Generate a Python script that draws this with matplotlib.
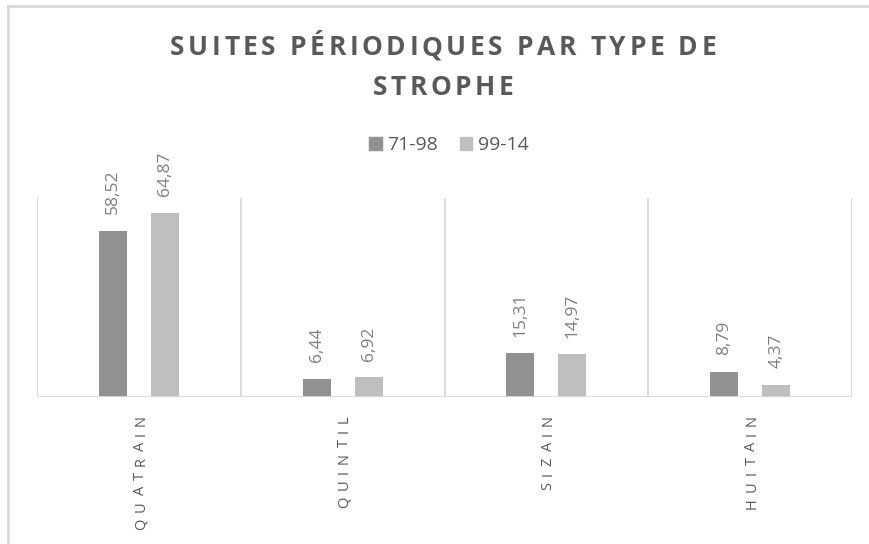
import matplotlib
matplotlib.use("Agg")
import matplotlib.pyplot as plt
from matplotlib.patches import Patch
from matplotlib.lines import Line2D

plt.rcParams['font.family'] = ['Open Sans', 'DejaVu Sans']

# data
categories = ["QUATRAIN", "QUINTIL", "SIZAIN", "HUITAIN"]
series_names = ["71-98", "99-14"]
vals_7198 = [58.52, 6.44, 15.31, 8.79]
vals_9914 = [64.87, 6.92, 14.97, 4.37]
title_lines = ["SUITES PÉRIODIQUES PAR TYPE DE", "STROPHE"]

W, H = 869, 544
dark = "#919191"
light = "#bfbfbf"
grid = "#d9d9d9"
txt = "#595959"

fig = plt.figure(figsize=(W/100, H/100), dpi=100)
rend = fig.canvas.get_renderer()
ax = fig.add_axes([37/W, 1-397/H, (852-37)/W, (397-198)/H])


def char_widths(s, **kw):
    # advance width of each char, measured between two I's
    def ext(t):
        a = fig.text(0, 0, t, **kw)
        w = a.get_window_extent(rend).width
        a.remove()
        return w
    base = ext("II")
    return [ext("I" + c + "I") - base for c in s]


def spaced_text(x, y, s, track, vertical=False, **kw):
    # draws s char by char with extra spacing (pixel coords, y from top)
    ws = char_widths(s, **kw)
    pos = 0
    for c, w in zip(s, ws):
        if vertical:
            fig.text(x/W, 1-(y-pos)/H, c, rotation=90, rotation_mode="anchor",
                     ha="left", va="baseline", **kw)
        else:
            fig.text((x+pos)/W, 1-y/H, c, ha="left", va="baseline", **kw)
        pos += w + track
    return pos - track


x = list(range(len(categories)))
w = 0.137
off = 0.128
b1 = ax.bar([i - off for i in x], vals_7198, width=w, color=dark, zorder=3)
b2 = ax.bar([i + off for i in x], vals_9914, width=w, color=light, zorder=3)

# data labels (french decimal comma)
for bars, vals in [(b1, vals_7198), (b2, vals_9914)]:
    for r, v in zip(bars, vals):
        ax.annotate(f"{v:.2f}".replace(".", ","),
                    (r.get_x() + r.get_width()/2, v),
                    xytext=(0, 12), textcoords="offset points",
                    rotation=90, ha="center", va="bottom",
                    fontsize=12.5, color="#7f7f7f")

ax.set_xlim(-0.5, 3.5)
ax.set_ylim(0, 70)

# category separators
for s in [-0.5, 0.5, 1.5, 2.5, 3.5]:
    ax.axvline(s, color=grid, lw=1.3, zorder=1)
ax.axhline(0, color=grid, lw=2, zorder=4)

for sp in ax.spines.values():
    sp.set_visible(False)
ax.set_yticks([])
ax.set_xticks([])

# category labels, rotated and letter spaced, top at y=415px
cat_kw = dict(fontsize=10.5, color=txt)
cap = 10.5
for i, c in enumerate(categories):
    cx = 37 + (852 - 37) * (i + 0.5) / len(categories)
    ws = char_widths(c, **cat_kw)
    L = sum(ws) + 6.0 * (len(c) - 1)
    spaced_text(cx + cap/2, 415 + L, c, 6.0, vertical=True, **cat_kw)

# title, letter spaced
t_kw = dict(fontsize=19, fontweight="bold", color=txt)
ws1 = char_widths(title_lines[0], **t_kw)
track = (546 - sum(ws1)) / (len(title_lines[0]) - 1)
for line, yb in zip(title_lines, [55, 95]):
    ws = char_widths(line, **t_kw)
    L = sum(ws) + track * (len(line) - 1)
    spaced_text(443 - L/2, yb, line, track, **t_kw)

# legend
handles = [Patch(color=dark), Patch(color=light)]
leg = fig.legend(handles, series_names, loc="center", bbox_to_anchor=(449/W, 1-145/H),
                 ncol=2, frameon=False, fontsize=14, handlelength=0.65, handleheight=0.65,
                 handletextpad=0.3, columnspacing=1.1, labelcolor=txt)

# chart border (top and left only visible)
fig.add_artist(Line2D([8/W, 1], [1-6/H, 1-6/H], color=grid, lw=2))
fig.add_artist(Line2D([8/W, 8/W], [0, 1-6/H], color=grid, lw=2))

fig.savefig("out.png", dpi=100)
